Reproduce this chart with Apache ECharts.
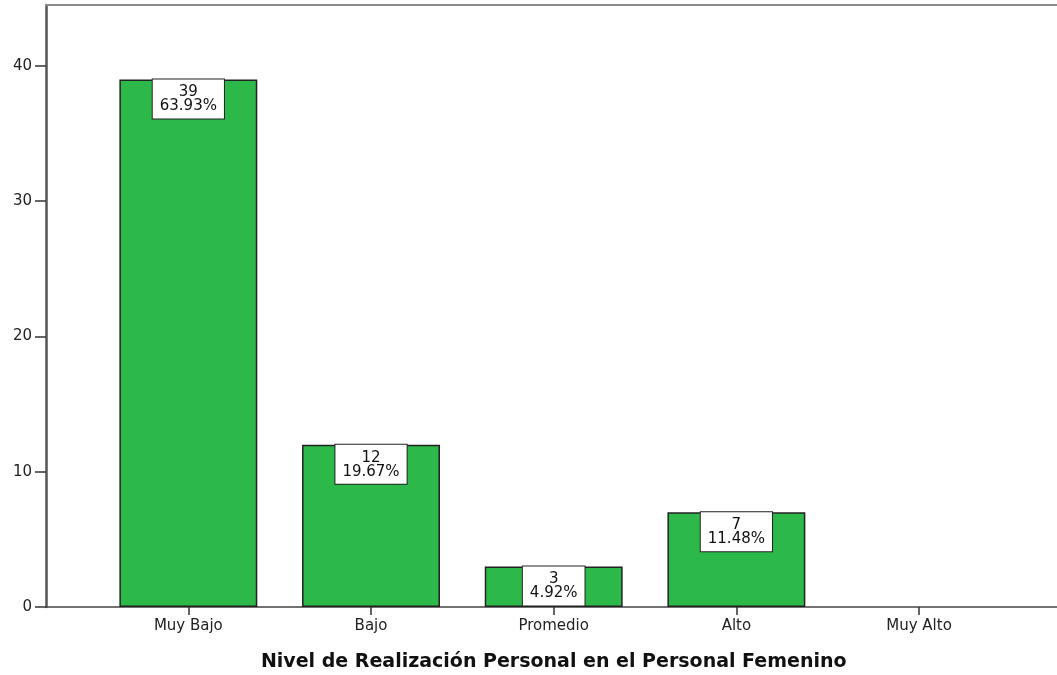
<!DOCTYPE html>
<html>
<head>
<meta charset="utf-8">
<script src="https://cdn.jsdelivr.net/npm/echarts@6/dist/echarts.min.js"></script>
<style>
  html, body { margin: 0; padding: 0; background: #fff; }
  #chart { width: 1057px; height: 675px; }
</style>
</head>
<body>
<div id="chart"></div>
<script>
// Frequency of each level
const categories = ['Muy Bajo', 'Bajo', 'Promedio', 'Alto', 'Muy Alto'];
const counts = [39, 12, 3, 7, 0];
const percents = ['63.93%', '19.67%', '4.92%', '11.48%', '0.00%'];
const yTicks = [0, 10, 20, 30, 40];
const axisTitle = 'Nivel de Realización Personal en el Personal Femenino';

const yMax = 44.5;
const font = '"DejaVu Sans", Verdana, sans-serif';

const chart = echarts.init(document.getElementById('chart'), null, { renderer: 'canvas' });

// Empty categories get no bar at all
const barData = counts.map(v => (v > 0 ? v : '-'));

chart.setOption({
  animation: false,
  backgroundColor: '#fff',
  grid: [
    { left: 46, right: 0, top: 5, bottom: 68, outerBoundsMode: 'none', containLabel: false },
    { left: 97, right: 46.6, top: 5, bottom: 68, outerBoundsMode: 'none', containLabel: false }
  ],
  xAxis: [
    {
      gridIndex: 0, type: 'value', min: 0, max: 1, position: 'bottom',
      axisLine: { show: true, lineStyle: { color: '#444', width: 1.5 } },
      axisTick: { show: false }, axisLabel: { show: false }, splitLine: { show: false }
    },
    {
      gridIndex: 0, type: 'value', min: 0, max: 1, position: 'top',
      axisLine: { show: true, lineStyle: { color: '#8a8a8a', width: 2 } },
      axisTick: { show: false }, axisLabel: { show: false }, splitLine: { show: false }
    },
    {
      gridIndex: 1, type: 'category', data: categories, position: 'bottom',
      name: axisTitle, nameLocation: 'middle', nameGap: 46,
      nameTextStyle: { fontFamily: font, fontSize: 19, fontWeight: 'bold', color: '#111' },
      axisLine: { show: false },
      axisTick: { show: true, alignWithLabel: true, length: 8, lineStyle: { color: '#333', width: 1.5 } },
      axisLabel: { fontFamily: font, fontSize: 15, color: '#222', margin: 12 },
      splitLine: { show: false }
    }
  ],
  yAxis: [
    {
      gridIndex: 0, type: 'value', min: 0, max: yMax, interval: 10,
      axisLine: { show: true, lineStyle: { color: '#555', width: 2.5 } },
      axisTick: { show: true, inside: false, length: 11, lineStyle: { color: '#333', width: 1.5 } },
      axisLabel: {
        fontFamily: font, fontSize: 15, color: '#222', margin: 14,
        showMaxLabel: false,
        formatter: v => (yTicks.indexOf(v) >= 0 ? String(v) : '')
      },
      splitLine: { show: false }
    },
    {
      gridIndex: 1, type: 'value', min: 0, max: yMax, interval: 10, show: false
    }
  ],
  series: [
    {
      type: 'bar',
      xAxisIndex: 2, yAxisIndex: 1,
      data: barData,
      barWidth: '75.5%',
      itemStyle: { color: '#2db84a', borderColor: '#222', borderWidth: 1.5 },
      label: {
        show: true,
        position: 'insideTop',
        distance: 0,
        formatter: p => counts[p.dataIndex] + '\n' + percents[p.dataIndex],
        fontFamily: font, fontSize: 15, lineHeight: 14, color: '#111',
        align: 'center',
        backgroundColor: '#fff', borderColor: '#222', borderWidth: 1,
        padding: [6, 7, 5, 7]
      }
    }
  ]
});
</script>
</body>
</html>
